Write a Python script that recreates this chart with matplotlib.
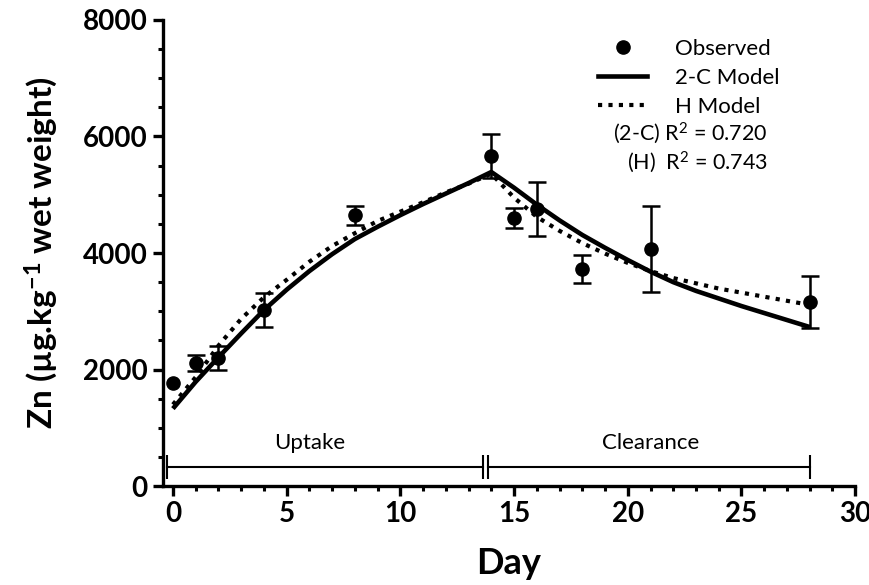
import matplotlib
matplotlib.use('Agg')
import matplotlib.pyplot as plt
from matplotlib.lines import Line2D
from matplotlib.ticker import MultipleLocator
import numpy as np

# observed Zn concentrations (mean +- error)
obs_day = [0, 1, 2, 4, 8, 14, 15, 16, 18, 21, 28]
obs_zn = [1770, 2110, 2200, 3020, 4650, 5665, 4600, 4750, 3730, 4070, 3160]
obs_err = [np.nan, 135, 200, 290, 165, 370, 165, 465, 240, 735, 450]

# model curves
model_day = [0, 1, 2, 3, 4, 5, 6, 7, 8, 9, 10, 11, 12, 13, 14,
             15, 16, 17, 18, 19, 20, 21, 22, 23, 24, 25, 26, 27, 28]
twoc_zn = [1330, 1790, 2210, 2620, 3020, 3370, 3690, 3980, 4240, 4450, 4650, 4840, 5020, 5200, 5390,
           5120, 4830, 4560, 4310, 4090, 3880, 3680, 3500, 3350, 3220, 3090, 2970, 2850, 2730]
h_zn = [1400, 1870, 2410, 2870, 3240, 3540, 3850, 4120, 4340, 4550, 4710, 4870, 5040, 5190, 5360,
        4950, 4620, 4380, 4170, 3990, 3830, 3690, 3570, 3480, 3390, 3320, 3250, 3180, 3110]

# experiment phases
uptake_span = (-0.25, 13.65)
clearance_span = (13.85, 28.0)
phase_y = 330
phase_label_y = 740

plt.rcParams['font.family'] = ['Lato', 'DejaVu Sans']
plt.rcParams['mathtext.fontset'] = 'custom'
plt.rcParams['mathtext.rm'] = 'Lato'
plt.rcParams['mathtext.it'] = 'Lato:italic'
plt.rcParams['mathtext.bf'] = 'Lato:bold'

fig = plt.figure(figsize=(8.7, 5.85), dpi=100)
ax = fig.add_axes([0.187, 0.169, 0.796, 0.797])

ax.plot(model_day, twoc_zn, color='black', lw=3.3, solid_capstyle='butt', zorder=2)
ax.plot(model_day, h_zn, color='black', lw=3, linestyle=(0, (1, 1.5)), zorder=2)
ax.errorbar(obs_day, obs_zn, yerr=obs_err, fmt='o', color='black', ms=9.5,
            elinewidth=1.8, capsize=6.5, capthick=1.8, zorder=3)

# uptake / clearance brackets
for span in (uptake_span, clearance_span):
    ax.plot(span, [phase_y, phase_y], color='black', lw=1.5)
    ax.vlines(span, phase_y - 210, phase_y + 210, color='black', lw=1.5)
ax.text(6.0, phase_label_y, 'Uptake', ha='center', va='center', fontsize=16)
ax.text(21.0, phase_label_y, 'Clearance', ha='center', va='center', fontsize=16)

ax.set_xlim(-0.45, 30)
ax.set_ylim(0, 8000)
ax.xaxis.set_major_locator(MultipleLocator(5))
ax.xaxis.set_minor_locator(MultipleLocator(1))
ax.yaxis.set_major_locator(MultipleLocator(2000))
ax.yaxis.set_minor_locator(MultipleLocator(500))

for side in ('top', 'right'):
    ax.spines[side].set_visible(False)
for side in ('left', 'bottom'):
    ax.spines[side].set_linewidth(2.4)

ax.tick_params(which='major', direction='out', length=7, width=2.4, labelsize=20, pad=4)
ax.tick_params(which='minor', direction='out', length=3.5, width=2.2)
for lab in ax.get_xticklabels() + ax.get_yticklabels():
    lab.set_fontweight('bold')

ax.set_xlabel('Day', fontsize=26, fontweight='bold', labelpad=14)
ax.set_ylabel(r'Zn (µg.kg$^{\mathbf{-1}}$ wet weight)', fontsize=24, fontweight='bold', labelpad=16)

handles = [Line2D([], [], marker='o', color='black', ls='none', ms=9.5),
           Line2D([], [], color='black', lw=3.3),
           Line2D([], [], color='black', lw=3, linestyle=(0, (1, 1.5)))]
ax.legend(handles, ['Observed', '2-C Model', 'H Model'], loc='upper left',
          bbox_to_anchor=(0.629, 0.96), frameon=False, fontsize=16,
          handlelength=2.2, handletextpad=1.25, labelspacing=0.42,
          borderpad=0, borderaxespad=0)

ax.text(0.874, 0.757, r'(2-C) R$^2$ = 0.720', transform=ax.transAxes,
        ha='right', va='center', fontsize=15.5)
ax.text(0.874, 0.695, r'(H)  R$^2$ = 0.743', transform=ax.transAxes,
        ha='right', va='center', fontsize=15.5)

fig.savefig('out.png', dpi=100)
